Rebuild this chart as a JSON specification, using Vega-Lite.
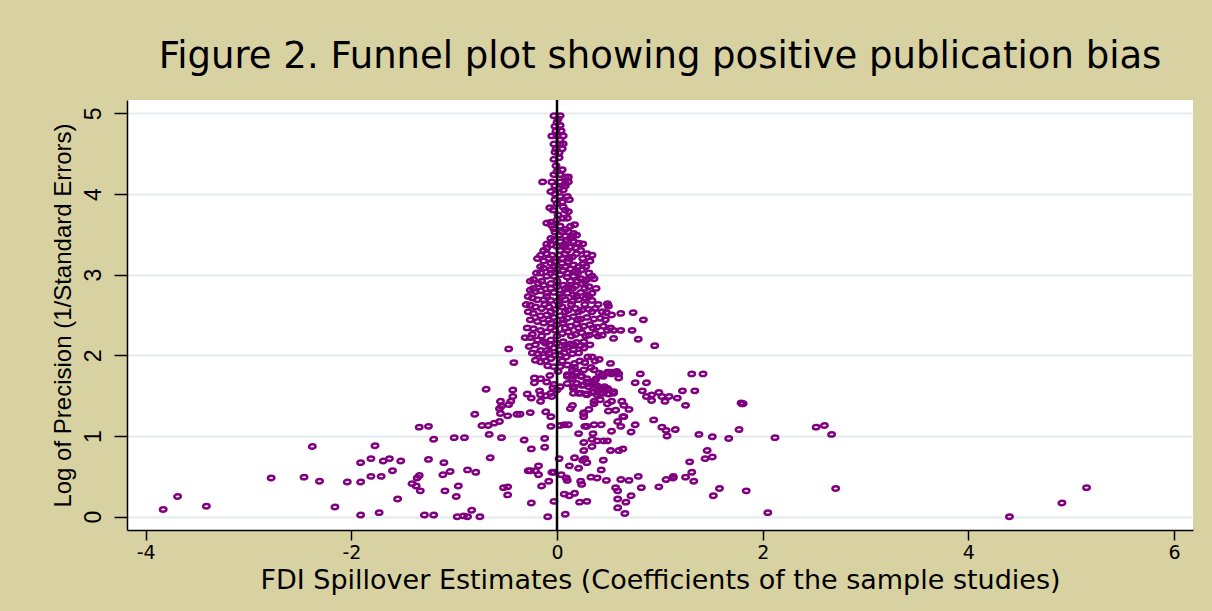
{
  "$schema": "https://vega.github.io/schema/vega-lite/v6.json",
  "width": 1066,
  "height": 430,
  "autosize": {"type": "none"},
  "padding": {"left": 127, "top": 100, "right": 19, "bottom": 81},
  "background": "#D8D2A2",
  "title": {
    "text": "Figure 2. Funnel plot showing positive publication bias",
    "font": "DejaVu Sans",
    "fontSize": 37,
    "fontWeight": "normal",
    "color": "#000000",
    "anchor": "middle",
    "baseline": "alphabetic",
    "offset": 28,
    "dy": 34
  },
  "config": {
    "view": {"fill": "white", "stroke": null}
  },
  "layer": [
    {
      "data": {
        "values": [
          {"x": -0.03, "y": 4.97}, {"x": 0.03, "y": 4.97}, {"x": 0, "y": 4.89}, {"x": 0.03, "y": 4.85}, {"x": -0.02, "y": 4.84},
          {"x": -0.05, "y": 4.72}, {"x": 0, "y": 4.72}, {"x": 0.06, "y": 4.72}, {"x": -0.03, "y": 4.62}, {"x": 0.03, "y": 4.62},
          {"x": 0.06, "y": 4.62}, {"x": -0.02, "y": 4.52}, {"x": 0.02, "y": 4.51}, {"x": -0.03, "y": 4.43}, {"x": -0.01, "y": 4.35},
          {"x": 0, "y": 4.28}, {"x": 0.03, "y": 4.24}, {"x": 0.08, "y": 4.21}, {"x": 0.11, "y": 4.21}, {"x": -0.14, "y": 4.15},
          {"x": -0.05, "y": 4.15}, {"x": 0.03, "y": 4.15}, {"x": 0.11, "y": 4.15}, {"x": -0.06, "y": 4.03}, {"x": 0.02, "y": 4.07},
          {"x": 0.06, "y": 4.05}, {"x": 0.03, "y": 3.97}, {"x": 0.10, "y": 3.97}, {"x": 0.12, "y": 3.93}, {"x": 0, "y": 3.88},
          {"x": 0.05, "y": 3.90}, {"x": -0.07, "y": 3.83}, {"x": 0.11, "y": 3.78}, {"x": 0.01, "y": 3.74}, {"x": 0.06, "y": 3.70},
          {"x": 0.10, "y": 3.70}, {"x": -0.06, "y": 3.65}, {"x": -0.05, "y": 3.61}, {"x": 0.17, "y": 3.62}, {"x": -0.03, "y": 3.57},
          {"x": 0.03, "y": 3.60}, {"x": 0.08, "y": 3.56}, {"x": -0.03, "y": 4.24}, {"x": 0.08, "y": 4.13}, {"x": -0.02, "y": 3.93},
          {"x": 0.06, "y": 3.84}, {"x": -0.10, "y": 3.64}, {"x": 0.13, "y": 3.60},
          {"x": -0.02, "y": 4.10}, {"x": 0.08, "y": 4.10}, {"x": -0.02, "y": 4.00}, {"x": -0.04, "y": 3.80}, {"x": 0.08, "y": 3.80},
          {"x": 0.00, "y": 3.68}, {"x": 0.05, "y": 4.30}, {"x": 0.02, "y": 4.45}, {"x": -0.01, "y": 4.56}, {"x": 0.05, "y": 4.56},
          {"x": 0.03, "y": 4.67}, {"x": -0.01, "y": 4.78}, {"x": 0.04, "y": 4.78}, {"x": 0.01, "y": 4.93},

          {"x": -0.02, "y": 3.53}, {"x": 0.05, "y": 3.53}, {"x": 0.11, "y": 3.53}, {"x": 0.16, "y": 3.51}, {"x": 0.02, "y": 3.49},
          {"x": 0.08, "y": 3.48}, {"x": 0.15, "y": 3.47}, {"x": 0.19, "y": 3.49}, {"x": -0.03, "y": 3.43}, {"x": 0.03, "y": 3.41},
          {"x": 0.10, "y": 3.43}, {"x": 0.16, "y": 3.41}, {"x": 0.21, "y": 3.39}, {"x": -0.06, "y": 3.37}, {"x": 0, "y": 3.35},
          {"x": 0.06, "y": 3.36}, {"x": 0.13, "y": 3.34}, {"x": 0.18, "y": 3.33}, {"x": -0.10, "y": 3.33}, {"x": -0.16, "y": 3.24},
          {"x": -0.10, "y": 3.26}, {"x": -0.05, "y": 3.24}, {"x": 0.02, "y": 3.24}, {"x": 0.08, "y": 3.26}, {"x": 0.15, "y": 3.22},
          {"x": 0.19, "y": 3.26}, {"x": 0.29, "y": 3.26}, {"x": 0.34, "y": 3.24}, {"x": 0.32, "y": 3.17}, {"x": 0.25, "y": 3.13},
          {"x": -0.13, "y": 3.17}, {"x": -0.06, "y": 3.14}, {"x": -0.02, "y": 3.16}, {"x": 0.05, "y": 3.14}, {"x": 0.11, "y": 3.16},
          {"x": 0.16, "y": 3.12}, {"x": 0.21, "y": 3.10}, {"x": -0.13, "y": 3.08}, {"x": -0.06, "y": 3.06}, {"x": 0, "y": 3.07},
          {"x": 0.06, "y": 3.05}, {"x": 0.13, "y": 3.07}, {"x": 0.18, "y": 3.04}, {"x": 0.24, "y": 3.06}, {"x": -0.16, "y": 3.02},
          {"x": -0.10, "y": 2.98}, {"x": -0.03, "y": 2.98}, {"x": 0.03, "y": 3.00}, {"x": 0.10, "y": 2.97}, {"x": 0.16, "y": 2.98},
          {"x": 0.23, "y": 2.95}, {"x": 0.29, "y": 2.94}, {"x": 0.34, "y": 2.98}, {"x": 0.36, "y": 2.95}, {"x": -0.23, "y": 2.94},
          {"x": -0.18, "y": 2.89}, {"x": -0.13, "y": 2.87}, {"x": -0.06, "y": 2.89}, {"x": 0, "y": 2.85}, {"x": 0.06, "y": 2.87},
          {"x": 0.11, "y": 2.84}, {"x": 0.18, "y": 2.86}, {"x": 0.24, "y": 2.89}, {"x": 0.31, "y": 2.85}, {"x": -0.26, "y": 2.81},
          {"x": -0.21, "y": 2.79}, {"x": -0.16, "y": 2.80}, {"x": -0.10, "y": 2.77}, {"x": -0.03, "y": 2.78}, {"x": 0.03, "y": 2.76},
          {"x": 0.10, "y": 2.77}, {"x": 0.16, "y": 2.75}, {"x": 0.23, "y": 2.78}, {"x": 0.29, "y": 2.75}, {"x": 0.34, "y": 2.77},
          {"x": -0.24, "y": 2.71}, {"x": -0.19, "y": 2.69}, {"x": -0.13, "y": 2.69}, {"x": -0.06, "y": 2.68}, {"x": 0, "y": 2.67},
          {"x": 0.08, "y": 2.69}, {"x": 0.15, "y": 2.67}, {"x": 0.21, "y": 2.69}, {"x": 0.28, "y": 2.71}, {"x": 0.34, "y": 2.68},
          {"x": 0.49, "y": 2.64}, {"x": 0.50, "y": 2.61}, {"x": -0.26, "y": 2.62}, {"x": -0.21, "y": 2.60}, {"x": -0.15, "y": 2.58},
          {"x": -0.08, "y": 2.60}, {"x": -0.02, "y": 2.57}, {"x": 0.05, "y": 2.60}, {"x": 0.11, "y": 2.56}, {"x": 0.18, "y": 2.58},
          {"x": 0.24, "y": 2.56}, {"x": 0.31, "y": 2.57}, {"x": 0.37, "y": 2.58}, {"x": 0.48, "y": 2.53}, {"x": 0.53, "y": 2.50},
          {"x": 0.62, "y": 2.52}, {"x": 0.74, "y": 2.53}, {"x": -0.23, "y": 2.52}, {"x": -0.16, "y": 2.49}, {"x": -0.10, "y": 2.50},
          {"x": -0.03, "y": 2.47}, {"x": 0.03, "y": 2.49}, {"x": 0.10, "y": 2.46}, {"x": 0.16, "y": 2.48}, {"x": 0.23, "y": 2.45},
          {"x": 0.29, "y": 2.47}, {"x": 0.36, "y": 2.45}, {"x": 0.42, "y": 2.46}, {"x": -0.19, "y": 2.42}, {"x": -0.13, "y": 2.40},
          {"x": -0.06, "y": 2.40}, {"x": 0, "y": 2.38}, {"x": 0.06, "y": 2.40}, {"x": 0.13, "y": 2.36}, {"x": 0.19, "y": 2.39},
          {"x": 0.26, "y": 2.36}, {"x": 0.32, "y": 2.38}, {"x": 0.39, "y": 2.35}, {"x": 0.45, "y": 2.36}, {"x": 0.49, "y": 2.31},
          {"x": 0.55, "y": 2.31}, {"x": 0.62, "y": 2.31}, {"x": 0.73, "y": 2.31}, {"x": 0.84, "y": 2.44}, {"x": -0.23, "y": 2.33},
          {"x": -0.16, "y": 2.31}, {"x": -0.10, "y": 2.29}, {"x": -0.02, "y": 2.31}, {"x": 0.05, "y": 2.27}, {"x": 0.11, "y": 2.29},
          {"x": 0.18, "y": 2.26}, {"x": 0.24, "y": 2.28}, {"x": 0.31, "y": 2.25}, {"x": 0.37, "y": 2.27}, {"x": 0.44, "y": 2.25},
          {"x": 0.55, "y": 2.21}, {"x": 0.79, "y": 2.20}, {"x": 0.95, "y": 2.12}, {"x": -0.31, "y": 2.22}, {"x": -0.26, "y": 2.22},
          {"x": -0.24, "y": 2.26}, {"x": -0.19, "y": 2.19}, {"x": -0.13, "y": 2.17}, {"x": -0.06, "y": 2.19}, {"x": 0, "y": 2.15},
          {"x": 0.06, "y": 2.17}, {"x": 0.13, "y": 2.14}, {"x": 0.19, "y": 2.16}, {"x": 0.26, "y": 2.17}, {"x": 0.23, "y": 2.12},
          {"x": 0.26, "y": 2.09}, {"x": -0.27, "y": 2.11}, {"x": -0.16, "y": 2.06}, {"x": -0.10, "y": 2.06}, {"x": -0.11, "y": 2.15},
          {"x": -0.03, "y": 2.09}, {"x": 0.02, "y": 2.07}, {"x": 0.10, "y": 2.10}, {"x": 0.16, "y": 2.07}, {"x": -0.19, "y": 2.02},
          {"x": -0.13, "y": 1.98}, {"x": -0.06, "y": 1.96}, {"x": -0.02, "y": 2.00}, {"x": 0.03, "y": 2.00}, {"x": 0.09, "y": 1.98},
          {"x": 0.15, "y": 2.02}, {"x": 0.17, "y": 1.90}, {"x": 0.17, "y": 1.85}, {"x": 0.27, "y": 1.91}, {"x": 0.30, "y": 1.98},
          {"x": 0.34, "y": 1.98}, {"x": 0.41, "y": 1.95}, {"x": 0.52, "y": 1.90}, {"x": -0.09, "y": 1.87}, {"x": -0.16, "y": 1.92},
          {"x": -0.21, "y": 1.94}, {"x": -0.47, "y": 2.08}, {"x": -0.42, "y": 1.91}, {"x": 0.10, "y": 1.88}, {"x": 0.03, "y": 1.86},
          {"x": -0.03, "y": 1.86}, {"x": 0.33, "y": 1.85},
          {"x": -0.06, "y": 3.45}, {"x": 0.13, "y": 3.45}, {"x": -0.10, "y": 3.38}, {"x": 0.08, "y": 3.38}, {"x": 0.25, "y": 3.38},
          {"x": -0.13, "y": 3.30}, {"x": 0.03, "y": 3.30}, {"x": 0.10, "y": 3.30}, {"x": 0.23, "y": 3.30}, {"x": -0.19, "y": 3.20},
          {"x": -0.08, "y": 3.20}, {"x": 0.05, "y": 3.20}, {"x": 0.12, "y": 3.20}, {"x": 0.25, "y": 3.20}, {"x": -0.16, "y": 3.10},
          {"x": -0.03, "y": 3.10}, {"x": 0.08, "y": 3.10}, {"x": 0.28, "y": 3.10}, {"x": -0.20, "y": 3.02}, {"x": -0.06, "y": 3.02},
          {"x": 0.10, "y": 3.02}, {"x": 0.20, "y": 3.02}, {"x": 0.31, "y": 3.02}, {"x": -0.26, "y": 2.92}, {"x": -0.15, "y": 2.92},
          {"x": 0.00, "y": 2.92}, {"x": 0.13, "y": 2.92}, {"x": 0.20, "y": 2.92}, {"x": 0.27, "y": 2.92}, {"x": -0.23, "y": 2.83},
          {"x": -0.06, "y": 2.83}, {"x": 0.08, "y": 2.83}, {"x": 0.15, "y": 2.83}, {"x": 0.27, "y": 2.83}, {"x": 0.38, "y": 2.83},
          {"x": -0.28, "y": 2.73}, {"x": -0.10, "y": 2.73}, {"x": 0.05, "y": 2.73}, {"x": 0.19, "y": 2.73}, {"x": 0.31, "y": 2.73},
          {"x": -0.30, "y": 2.63}, {"x": -0.12, "y": 2.63}, {"x": 0.02, "y": 2.63}, {"x": 0.14, "y": 2.63}, {"x": 0.27, "y": 2.63},
          {"x": 0.40, "y": 2.63}, {"x": -0.28, "y": 2.54}, {"x": -0.06, "y": 2.54}, {"x": 0.08, "y": 2.54}, {"x": 0.21, "y": 2.54},
          {"x": 0.34, "y": 2.54}, {"x": 0.44, "y": 2.54}, {"x": -0.26, "y": 2.44}, {"x": -0.08, "y": 2.44}, {"x": 0.06, "y": 2.44},
          {"x": 0.20, "y": 2.44}, {"x": 0.47, "y": 2.44}, {"x": -0.29, "y": 2.34}, {"x": -0.06, "y": 2.34}, {"x": 0.08, "y": 2.34},
          {"x": 0.21, "y": 2.34}, {"x": 0.35, "y": 2.34}, {"x": 0.52, "y": 2.34}, {"x": -0.15, "y": 2.24}, {"x": 0.00, "y": 2.24},
          {"x": 0.14, "y": 2.24}, {"x": 0.28, "y": 2.24}, {"x": 0.40, "y": 2.24}, {"x": -0.21, "y": 2.13}, {"x": -0.07, "y": 2.13},
          {"x": 0.08, "y": 2.13}, {"x": 0.16, "y": 2.13}, {"x": 0.32, "y": 2.13}, {"x": -0.24, "y": 2.03}, {"x": -0.08, "y": 2.03},
          {"x": 0.07, "y": 2.03}, {"x": 0.21, "y": 2.03}, {"x": -0.11, "y": 1.93}, {"x": 0.05, "y": 1.93}, {"x": 0.22, "y": 1.93},
          {"x": 0.37, "y": 1.93},

          {"x": -0.69, "y": 1.58}, {"x": -0.43, "y": 1.57}, {"x": -0.43, "y": 1.49}, {"x": -0.22, "y": 1.72}, {"x": -0.22, "y": 1.66},
          {"x": -0.07, "y": 1.75}, {"x": 0.01, "y": 1.80}, {"x": -0.29, "y": 1.52}, {"x": -0.25, "y": 1.47}, {"x": -0.17, "y": 1.56},
          {"x": -0.16, "y": 1.51}, {"x": -0.16, "y": 1.43}, {"x": -0.11, "y": 1.50}, {"x": -0.05, "y": 1.49}, {"x": -0.04, "y": 1.60},
          {"x": -0.55, "y": 1.43}, {"x": -0.54, "y": 1.37}, {"x": -0.56, "y": 1.34}, {"x": -0.45, "y": 1.43}, {"x": -0.47, "y": 1.39},
          {"x": -0.55, "y": 1.28}, {"x": -0.48, "y": 1.25}, {"x": -0.39, "y": 1.27}, {"x": -0.36, "y": 1.27}, {"x": -0.80, "y": 1.27},
          {"x": -0.26, "y": 1.29}, {"x": -0.11, "y": 1.30}, {"x": -0.06, "y": 1.24}, {"x": -0.73, "y": 1.13}, {"x": -0.67, "y": 1.13},
          {"x": -0.61, "y": 1.16}, {"x": -0.56, "y": 1.18}, {"x": -0.66, "y": 1.02}, {"x": -0.54, "y": 0.98}, {"x": -0.32, "y": 0.95},
          {"x": -0.12, "y": 0.97}, {"x": -0.12, "y": 0.86}, {"x": -0.25, "y": 0.84}, {"x": -0.06, "y": 1.12}, {"x": 0.03, "y": 1.13},
          {"x": 0.07, "y": 1.14}, {"x": 0.11, "y": 1.14}, {"x": 0.15, "y": 1.38}, {"x": 0.13, "y": 1.34}, {"x": 0.26, "y": 1.28},
          {"x": 0.26, "y": 1.24}, {"x": 0.27, "y": 1.12}, {"x": 0.29, "y": 1.12}, {"x": 0.36, "y": 1.14}, {"x": 0.43, "y": 1.14},
          {"x": 0.21, "y": 1.03}, {"x": 0.35, "y": 1.03}, {"x": 0.26, "y": 0.92}, {"x": 0.34, "y": 0.96}, {"x": 0.39, "y": 0.94},
          {"x": 0.45, "y": 0.94}, {"x": 0.49, "y": 0.94}, {"x": 0.34, "y": 0.87}, {"x": 0.26, "y": 0.82}, {"x": 0.52, "y": 0.82},
          {"x": 0.60, "y": 0.82}, {"x": 0.64, "y": 0.84}, {"x": 0.53, "y": 1.06}, {"x": 0.62, "y": 1.12}, {"x": 0.59, "y": 1.18},
          {"x": 0.64, "y": 1.24}, {"x": 0.72, "y": 1.05}, {"x": 0.76, "y": 1.14}, {"x": 0.94, "y": 1.20}, {"x": 1.02, "y": 1.11},
          {"x": 1.06, "y": 1.07}, {"x": 1.07, "y": 1.00}, {"x": 1.15, "y": 1.08}, {"x": 0.02, "y": 0.72}, {"x": 0.17, "y": 0.73},
          {"x": 0.25, "y": 0.70}, {"x": 0.27, "y": 0.72}, {"x": 0.29, "y": 0.67}, {"x": 0.45, "y": 0.70}, {"x": 0.12, "y": 0.63},
          {"x": 0.21, "y": 0.60}, {"x": 0.43, "y": 0.58}, {"x": 0.33, "y": 0.49}, {"x": 0.39, "y": 0.48}, {"x": 0.48, "y": 0.45},
          {"x": 0.62, "y": 0.46}, {"x": 0.70, "y": 0.45}, {"x": 0.79, "y": 0.50}, {"x": 0.82, "y": 0.36}, {"x": 0.99, "y": 0.37},
          {"x": 1.06, "y": 0.46}, {"x": 1.13, "y": 0.50}, {"x": 1.13, "y": 0.48}, {"x": 1.25, "y": 0.49}, {"x": 1.31, "y": 0.55},
          {"x": 1.29, "y": 0.68}, {"x": 1.33, "y": 0.44}, {"x": 1.38, "y": 1.02}, {"x": 0.04, "y": 0.52}, {"x": 0.09, "y": 0.48},
          {"x": 0.10, "y": 0.45}, {"x": -0.08, "y": 0.44}, {"x": -0.05, "y": 0.55}, {"x": -0.03, "y": 0.55}, {"x": -0.28, "y": 0.57},
          {"x": -0.26, "y": 0.57}, {"x": -0.21, "y": 0.57}, {"x": -0.18, "y": 0.63}, {"x": -0.18, "y": 0.52}, {"x": -0.15, "y": 0.38},
          {"x": -0.25, "y": 0.17}, {"x": -0.03, "y": 0.19}, {"x": -0.09, "y": 0.00}, {"x": 0.08, "y": 0.03}, {"x": 0.07, "y": 0.28},
          {"x": 0.12, "y": 0.26}, {"x": 0.17, "y": 0.29}, {"x": 0.22, "y": 0.18}, {"x": 0.29, "y": 0.19}, {"x": 0.23, "y": 0.44},
          {"x": 0.24, "y": 0.40}, {"x": 0.57, "y": 0.36}, {"x": 0.59, "y": 0.32}, {"x": 0.59, "y": 0.22}, {"x": 0.72, "y": 0.26},
          {"x": 0.67, "y": 0.18}, {"x": 0.59, "y": 0.11}, {"x": 0.66, "y": 0.04}, {"x": -1.25, "y": 0.71}, {"x": -1.10, "y": 0.67},
          {"x": -1.04, "y": 0.56}, {"x": -1.11, "y": 0.52}, {"x": -0.87, "y": 0.58}, {"x": -0.79, "y": 0.55}, {"x": -0.96, "y": 0.38},
          {"x": -0.98, "y": 0.25}, {"x": -1.09, "y": 0.32}, {"x": -0.65, "y": 0.73}, {"x": -0.52, "y": 0.36}, {"x": -0.48, "y": 0.37},
          {"x": -0.48, "y": 0.27}, {"x": -0.83, "y": 0.08}, {"x": -0.97, "y": 0.00}, {"x": -0.91, "y": 0.01}, {"x": -0.87, "y": 0.00},
          {"x": -0.75, "y": 0.00}, {"x": -1.20, "y": 0.96}, {"x": -1.00, "y": 0.98}, {"x": -0.90, "y": 0.98}, {"x": -1.29, "y": 0.02},
          {"x": -1.20, "y": 0.02}, {"x": -1.25, "y": 1.12},

          {"x": 0.10, "y": 1.76}, {"x": 0.15, "y": 1.74}, {"x": 0.19, "y": 1.78}, {"x": 0.24, "y": 1.74}, {"x": 0.29, "y": 1.71},
          {"x": 0.34, "y": 1.67}, {"x": 0.37, "y": 1.69}, {"x": 0.44, "y": 1.76}, {"x": 0.49, "y": 1.79}, {"x": 0.53, "y": 1.77},
          {"x": 0.58, "y": 1.80}, {"x": 0.19, "y": 1.65}, {"x": 0.26, "y": 1.63}, {"x": 0.31, "y": 1.61}, {"x": 0.36, "y": 1.65},
          {"x": 0.41, "y": 1.59}, {"x": 0.16, "y": 1.59}, {"x": 0.21, "y": 1.53}, {"x": 0.28, "y": 1.52}, {"x": 0.34, "y": 1.54},
          {"x": 0.39, "y": 1.51}, {"x": 0.45, "y": 1.53}, {"x": 0.50, "y": 1.52}, {"x": 0.55, "y": 1.55}, {"x": 0.36, "y": 1.43},
          {"x": 0.42, "y": 1.45}, {"x": 0.49, "y": 1.40}, {"x": 0.53, "y": 1.43}, {"x": 0.63, "y": 1.43}, {"x": 0.65, "y": 1.38},
          {"x": 0.70, "y": 1.33}, {"x": 0.81, "y": 1.77}, {"x": 0.76, "y": 1.66}, {"x": 0.87, "y": 1.66}, {"x": 0.83, "y": 1.56},
          {"x": 0.87, "y": 1.49}, {"x": 0.92, "y": 1.44}, {"x": 1.02, "y": 1.49}, {"x": 1.09, "y": 1.49}, {"x": 1.17, "y": 1.47},
          {"x": 1.22, "y": 1.56}, {"x": 1.34, "y": 1.56}, {"x": 1.31, "y": 1.77}, {"x": 1.25, "y": 1.38}, {"x": 1.05, "y": 1.43},
          {"x": 0.36, "y": 1.40}, {"x": 0.31, "y": 1.33}, {"x": 0.26, "y": 1.29}, {"x": 0.50, "y": 1.31}, {"x": 0.57, "y": 1.32},
          {"x": 0.65, "y": 1.24}, {"x": 0.99, "y": 1.54}, {"x": 0.92, "y": 1.51},
          {"x": 0.10, "y": 1.74}, {"x": 0.15, "y": 1.71}, {"x": 0.23, "y": 1.74}, {"x": 0.29, "y": 1.67}, {"x": 0.24, "y": 1.63},
          {"x": 0.16, "y": 1.61}, {"x": 0.10, "y": 1.65}, {"x": 0.03, "y": 1.61}, {"x": -0.03, "y": 1.64}, {"x": -0.10, "y": 1.67},
          {"x": -0.16, "y": 1.71}, {"x": -0.06, "y": 1.53}, {"x": 0, "y": 1.57}, {"x": 0.16, "y": 1.53}, {"x": 0.23, "y": 1.53},
          {"x": 0.29, "y": 1.51}, {"x": 0.36, "y": 1.55}, {"x": 0.42, "y": 1.53}, {"x": 0.50, "y": 1.57}, {"x": 0.55, "y": 1.53},
          {"x": 0.41, "y": 1.78}, {"x": 0.45, "y": 1.74}, {"x": 0.38, "y": 1.71}, {"x": 0.34, "y": 1.64}, {"x": 0.39, "y": 1.62},
          {"x": 0.44, "y": 1.58}, {"x": 0.49, "y": 1.59}, {"x": 0.54, "y": 1.79}, {"x": 0.60, "y": 1.77}, {"x": 0.60, "y": 1.72},
          {"x": 0.58, "y": 1.79}, {"x": 0.51, "y": 1.79}, {"x": 0.44, "y": 1.76}, {"x": 0.46, "y": 1.61}, {"x": 0.36, "y": 1.82},
          {"x": 0.15, "y": 1.82}, {"x": 0.19, "y": 1.79}, {"x": 0.26, "y": 1.82},

          {"x": -3.83, "y": 0.09}, {"x": -3.69, "y": 0.25}, {"x": -3.41, "y": 0.13}, {"x": -2.78, "y": 0.48}, {"x": -2.46, "y": 0.49},
          {"x": -2.38, "y": 0.87}, {"x": -2.31, "y": 0.44}, {"x": -2.16, "y": 0.12}, {"x": -2.04, "y": 0.43}, {"x": -1.91, "y": 0.67},
          {"x": -1.91, "y": 0.43}, {"x": -1.91, "y": 0.02}, {"x": -1.81, "y": 0.72}, {"x": -1.81, "y": 0.50}, {"x": -1.77, "y": 0.88},
          {"x": -1.73, "y": 0.05}, {"x": -1.71, "y": 0.50}, {"x": -1.69, "y": 0.69}, {"x": -1.63, "y": 0.72}, {"x": -1.60, "y": 0.57},
          {"x": -1.55, "y": 0.22}, {"x": -1.52, "y": 0.69}, {"x": -1.41, "y": 0.41}, {"x": -1.37, "y": 0.38}, {"x": -1.36, "y": 0.48},
          {"x": -1.34, "y": 0.51}, {"x": -1.34, "y": 1.11}, {"x": -1.33, "y": 0.32},

          {"x": 1.42, "y": 1.77}, {"x": 1.80, "y": 1.40}, {"x": 1.79, "y": 1.41}, {"x": 1.81, "y": 1.40}, {"x": 1.51, "y": 0.99},
          {"x": 1.67, "y": 0.97}, {"x": 1.77, "y": 1.08}, {"x": 2.12, "y": 0.98}, {"x": 2.52, "y": 1.11}, {"x": 2.60, "y": 1.13},
          {"x": 2.67, "y": 1.02}, {"x": 1.46, "y": 0.82}, {"x": 1.44, "y": 0.72}, {"x": 1.51, "y": 0.74}, {"x": 1.58, "y": 0.35},
          {"x": 1.52, "y": 0.26}, {"x": 1.84, "y": 0.32}, {"x": 2.05, "y": 0.05}, {"x": 2.71, "y": 0.35},
          {"x": 4.40, "y": 0.00}, {"x": 4.91, "y": 0.17}, {"x": 5.15, "y": 0.36}
        ]
      },
      "mark": {
        "type": "point",
        "shape": "M-1,0A1,0.68 0 1,0 1,0A1,0.68 0 1,0 -1,0Z",
        "filled": false,
        "stroke": "#800080",
        "strokeWidth": 2.5,
        "size": 42,
        "opacity": 1
      },
      "encoding": {
        "x": {
          "field": "x",
          "type": "quantitative",
          "scale": {"domain": [-4.182, 6.185], "nice": false, "zero": false},
          "axis": {
            "title": "FDI Spillover Estimates (Coefficients of the sample studies)",
            "values": [-4, -2, 0, 2, 4, 6],
            "labelExpr": "'' + datum.value",
            "grid": false,
            "domainColor": "#000000",
            "domainWidth": 1.5,
            "tickColor": "#000000",
            "tickWidth": 1.5,
            "tickSize": 10,
            "labelFont": "DejaVu Sans",
            "labelFontSize": 19,
            "labelColor": "#000000",
            "labelPadding": 3,
            "labelFlush": false,
            "titleFont": "DejaVu Sans",
            "titleFontSize": 27,
            "titleFontWeight": "normal",
            "titleColor": "#000000",
            "titleBaseline": "alphabetic",
            "titleY": 58
          }
        },
        "y": {
          "field": "y",
          "type": "quantitative",
          "scale": {"domain": [-0.165, 5.165], "nice": false, "zero": false},
          "axis": {
            "title": "Log of Precision (1/Standard Errors)",
            "values": [0, 1, 2, 3, 4, 5],
            "grid": true,
            "gridColor": "#E4EBEF",
            "gridWidth": 2,
            "domainColor": "#000000",
            "domainWidth": 1.5,
            "tickColor": "#000000",
            "tickWidth": 1.5,
            "tickSize": 13,
            "labelAngle": 270,
            "labelAlign": "center",
            "labelBaseline": "bottom",
            "labelPadding": 9,
            "labelFont": "Liberation Sans",
            "labelFontSize": 23,
            "labelColor": "#000000",
            "labelFlush": false,
            "titleFont": "Liberation Sans",
            "titleFontSize": 24,
            "titleFontWeight": "normal",
            "titleColor": "#000000",
            "titleAngle": 270,
            "titleBaseline": "middle",
            "titleX": -64
          }
        }
      }
    },
    {
      "data": {"values": [{"x0": 0}]},
      "mark": {"type": "rule", "color": "#000000", "strokeWidth": 2.5},
      "encoding": {"x": {"field": "x0", "type": "quantitative"}}
    }
  ]
}
